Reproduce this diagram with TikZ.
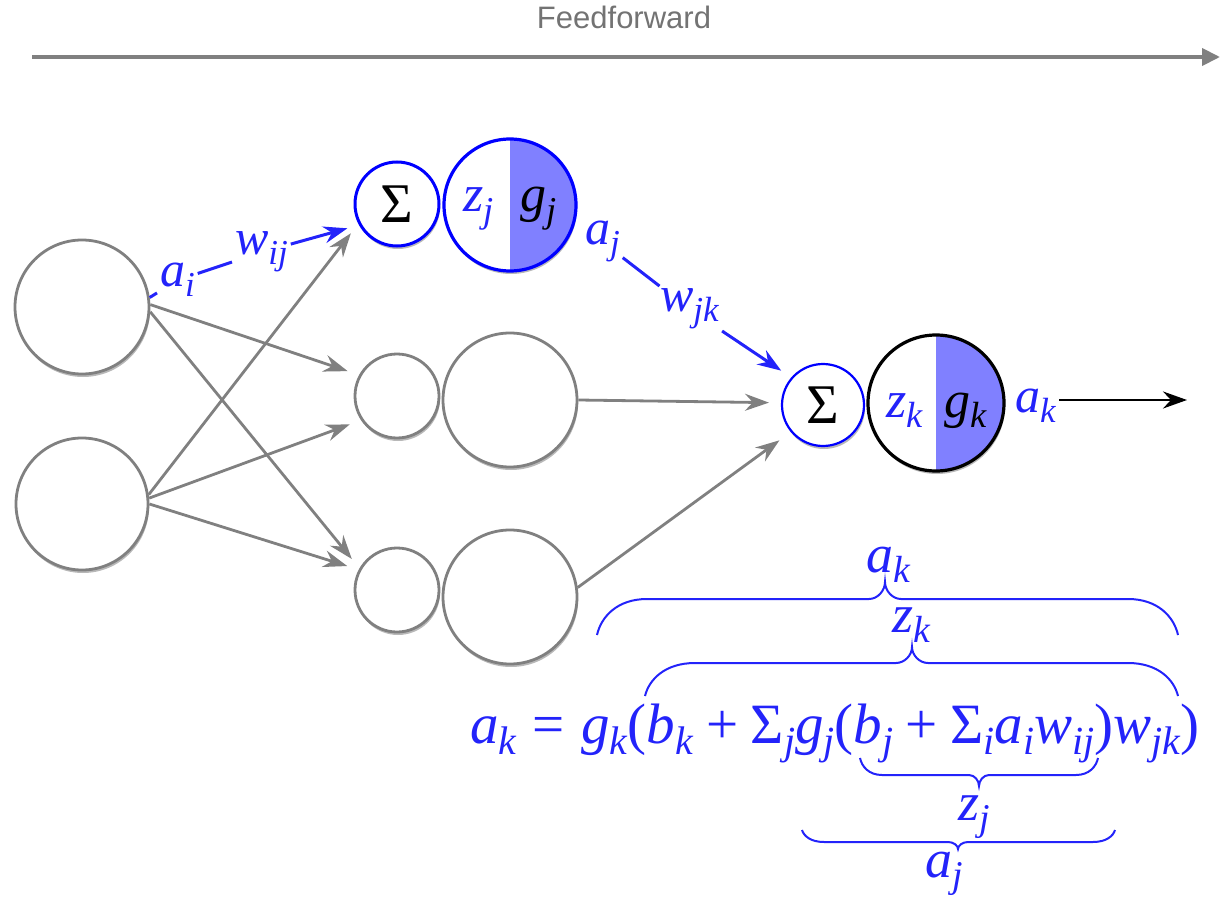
\documentclass[tikz,border=0pt]{standalone}
\usepackage{graphicx}
\usepackage{fontspec}
\newfontfamily\ffsans{Liberation Sans}
\newfontfamily\tms{Liberation Serif}
\usetikzlibrary{arrows.meta,shadows}
\definecolor{eqblue}{RGB}{35,35,250}
\definecolor{linegray}{RGB}{128,128,128}
\definecolor{halfblue}{RGB}{128,128,255}
\definecolor{ffgray}{RGB}{115,115,115}
\newcommand\eqsize{\tms\fontsize{57}{62}\selectfont}
\newcommand\labsize{\tms\fontsize{50}{56}\selectfont}
\newcommand\cirsize{\tms\fontsize{52}{58}\selectfont}
\newcommand\brsize{\tms\fontsize{54}{60}\selectfont}
\newcommand\sigsize{\tms\fontsize{56}{62}\selectfont}
\newcommand\sub[1]{\raisebox{-0.2em}{\scalebox{0.7}{#1}}}
\newcommand\vs[2]{\textit{#1}\sub{\textit{#2}}}
\newcommand\curlyb[8]{%
 \draw[brc] (#1,#4) .. controls ({#1+0.08*#7},{#5+0.5*(#4-#5)}) and ({#1+0.4*#7},#5) .. ({#1+#7},#5)
   -- ({#3-#8},#5) .. controls ({#3-0.45*#8},#5) and (#3,{#5+0.5*(#6-#5)}) .. (#3,#6)
   .. controls (#3,{#5+0.5*(#6-#5)}) and ({#3+0.45*#8},#5) .. ({#3+#8},#5)
   -- ({#2-#7},#5) .. controls ({#2-0.4*#7},#5) and ({#2-0.08*#7},{#5+0.5*(#4-#5)}) .. (#2,#4);}
\tikzset{
  neuron/.style={circle, draw=linegray, line width=2.8pt, fill=white, inner sep=0pt,
     drop shadow={shadow xshift=1pt, shadow yshift=-3pt, opacity=0.28, fill=black}},
  sumnode/.style={neuron, minimum size=84pt, font=\sigsize},
  bignode/.style={neuron, minimum size=134pt},
  halffill/.style={path picture={\fill[halfblue] (path picture bounding box.north) rectangle (path picture bounding box.south east);}},
  lab/.style={inner sep=0pt, outer sep=3pt, text=eqblue, font=\labsize, anchor=base west},
  clab/.style={inner sep=0pt, outer sep=0pt, text=eqblue, font=\cirsize, anchor=base west},
  blab/.style={inner sep=0pt, outer sep=0pt, text=eqblue, font=\brsize, anchor=base west},
  tip/.style={-{Stealth[length=24pt,width=17pt,inset=8pt]}},
  garrow/.style={draw=linegray, line width=2.8pt, tip},
  bline/.style={draw=eqblue, line width=3pt},
  barrow/.style={bline, tip},
  karrow/.style={draw=black, line width=2.8pt, tip},
  brc/.style={draw=eqblue, line width=2pt},
}
\begin{document}
\begin{tikzpicture}[x=1pt,y=-1pt]
\useasboundingbox (0,0) rectangle (1231,917);
% feedforward
\node[font=\ffsans\fontsize{31}{36}\selectfont, text=ffgray] (ff) at (624,17) {Feedforward};
\coordinate (ffs) at (32,57);
\coordinate (ffe) at (1220,57);
\draw[line width=4pt, draw=linegray, -{Triangle[length=18pt,width=17pt]}] (ffs) -- (ffe);
% input layer
\node[bignode] (i1) at (82,307) {};
\node[bignode, minimum size=132pt] (i2) at (82,504) {};
% hidden layer
\node[sumnode, draw=blue, line width=3pt] (s1) at (397,204) {Σ};
\node[bignode, draw=blue, line width=3.2pt, halffill, minimum size=132pt] (h1) at (510,205) {};
\node[sumnode] (s2) at (397,396) {};
\node[bignode] (h2) at (510,400) {};
\node[sumnode] (s3) at (397,590) {};
\node[bignode] (h3) at (510,597) {};
% output
\node[sumnode, draw=blue, line width=2.2pt, minimum size=82pt] (so) at (823,405) {Σ};
\node[bignode, draw=black, line width=3.2pt, halffill, minimum size=136pt] (o) at (936,403) {};
% labels in circles
\node[clab, text=eqblue] (zj) at (463,212) {\vs{z}{j}};
\node[clab, text=black] (gj) at (520,212) {\vs{g}{j}};
\node[clab, text=eqblue] (zk) at (886,417) {\vs{z}{k}};
\node[clab, text=black] (gk) at (944,417) {\vs{g}{k}};
% weight labels
\node[lab] (ai) at (157,287) {\vs{a}{i}};
\node[lab] (wij) at (232,255) {\vs{w}{ij}};
\node[lab] (aj) at (582,245) {\vs{a}{j}};
\node[lab] (wjk) at (657,312) {\vs{w}{jk}};
\node[lab] (ak) at (1012,412) {\vs{a}{k}};
\coordinate (outend) at (1187,400);
% gray connectors
\draw[garrow, shorten >=12pt] (i1.2) -- (s2.151);
\draw[garrow, shorten >=12pt] (i1.-4) -- (s3.150);
\draw[garrow, shorten >=12pt] (i2.8) -- (s1.207);
\draw[garrow, shorten >=12pt] (i2.5) -- (s2.214);
\draw[garrow, shorten >=12pt] (i2.0) -- (s3.152);
\draw[garrow, shorten >=12pt] (h2.0) -- (so.177);
\draw[garrow, shorten >=14pt] (h3.8) -- (so.220);
% blue connectors
\draw[bline] (i1.8) -- (ai);
\draw[bline] (ai) -- (wij);
\draw[barrow, shorten >=12pt] (wij) -- (s1.209);
\draw[bline] (aj) -- (wjk);
\draw[barrow, shorten >=12pt] (wjk) -- (so.139);
\draw[karrow] (ak.east |- outend) -- (outend);
% equation
\node[inner sep=0pt, text=eqblue, font=\eqsize, anchor=base west] (eq) at (470,743)
  {\vs{a}{k}\hspace{0.28em}=\hspace{0.28em}\vs{g}{k}(\vs{b}{k}\hspace{0.22em}+\hspace{0.22em}Σ\sub{\textit{j}}\vs{g}{j}(\vs{b}{j}\hspace{0.22em}+\hspace{0.22em}Σ\sub{\textit{i}}\vs{a}{i}\vs{w}{ij})\vs{w}{jk})};
% braces
\curlyb{597}{1178}{885}{635}{599}{582}{50}{16}
\curlyb{645}{1178}{912}{696}{663}{647}{50}{16}
\curlyb{860}{1098}{979}{758}{775}{786}{22}{10}
\curlyb{802}{1115}{958}{830}{842}{849}{22}{10}
\node[blab] (akb) at (866,572) {\vs{a}{k}};
\node[blab] (zkb) at (892,632) {\vs{z}{k}};
\node[blab] (zjb) at (958,820) {\vs{z}{j}};
\node[blab] (ajb) at (925,877) {\vs{a}{j}};
\end{tikzpicture}
\end{document}
